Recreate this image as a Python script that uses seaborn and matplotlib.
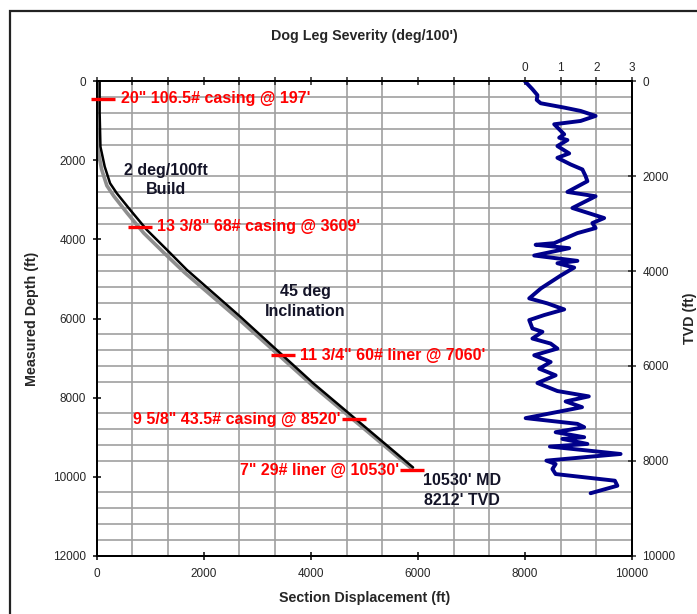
import numpy as np
import pandas as pd
import matplotlib
matplotlib.use("Agg")
import matplotlib.pyplot as plt
from matplotlib.patches import Rectangle
import seaborn as sns

# ---------------- data ----------------
# Dog leg severity (deg/100') vs measured depth (ft)
dls_md = [0, 200, 350, 470, 555, 665, 750, 876, 1003, 1087, 1214, 1341, 1427, 1486,
          1638, 1824, 1935, 2103, 2230, 2400, 2527, 2799, 2908, 3205, 3459, 3586,
          3713, 3840, 4094, 4135, 4221, 4407, 4542, 4602, 4712, 4915, 5237, 5491,
          5618, 5770, 5913, 6040, 6253, 6337, 6507, 6634, 6761, 6930, 7100, 7269,
          7437, 7632, 7835, 7970, 8098, 8243, 8520, 8665, 8749, 8876, 9003, 9046,
          9173, 9240, 9427, 9595, 9681, 9808, 9935, 10103, 10230, 10420]
dls_val = [0.0, 0.21, 0.35, 0.33, 0.44, 1.1, 1.56, 1.98, 1.56, 0.82, 0.96, 1.1, 0.96, 1.19,
           0.91, 1.24, 0.91, 1.28, 1.61, 1.7, 1.75, 1.19, 1.98, 1.33, 2.22, 1.89,
           1.98, 1.47, 0.82, 0.3, 1.24, 0.26, 1.47, 0.91, 1.38, 1.0, 0.45, 0.12,
           0.63, 1.1, 0.54, 0.12, 0.21, 0.49, 0.21, 0.72, 0.91, 0.26, 0.72, 0.40,
           0.86, 0.35, 0.91, 1.79, 1.14, 1.6, 0.02, 1.47, 1.66, 0.86, 1.66, 1.05,
           1.75, 0.7, 2.68, 0.6, 0.86, 0.77, 0.86, 2.52, 2.59, 1.84]

# Well path: section displacement (ft) vs TVD (ft)
actual_disp = [55, 55, 70, 150, 250, 375, 625, 935, 1310, 1680, 2680, 4050, 5910]
actual_tvd = [0, 670, 1380, 1800, 2150, 2360, 2710, 3130, 3550, 3970, 4960, 6370, 8140]
plan_disp = [0, 0, 20, 90, 190, 320, 570, 880, 1260, 1640, 2650, 4030, 5880]
plan_tvd = [0, 800, 1420, 1850, 2200, 2420, 2780, 3200, 3620, 4030, 5010, 6410, 8160]

# Casing points
casing_disp = [123, 809, 3479, 4806, 5899]
casing_tvd = [373, 3071, 5776, 7119, 8194]
casing_labels = ['20" 106.5# casing @ 197\'', '13 3/8" 68# casing @ 3609\'',
                 '11 3/4" 60# liner @ 7060\'', '9 5/8" 43.5# casing @ 8520\'',
                 '7" 29# liner @ 10530\'']
casing_side = ['right', 'right', 'right', 'left', 'left']

md_ticks = [0, 2000, 4000, 6000, 8000, 10000, 12000]
disp_ticks = [0, 2000, 4000, 6000, 8000, 10000]
tvd_ticks = [0, 2000, 4000, 6000, 8000, 10000]
dls_ticks = list(range(-12, 4))

# ---------------- style ----------------
sns.set_style("white")
plt.rcParams['font.family'] = ['Liberation Sans', 'DejaVu Sans']

fig = plt.figure(figsize=(6.97, 6.14), dpi=100)
L, R, B, T = 96.7 / 697, 632 / 697, 1 - 555.7 / 614, 1 - 81.3 / 614
ax = fig.add_axes([L, B, R - L, T - B])

grid_c = '#a0a0a0'
ax.set_xlim(0, 10000)
ax.set_ylim(12000, 0)
ax.set_xticks(disp_ticks)
ax.set_yticks(md_ticks)
ax.set_xticks(np.arange(0, 10001, 2000 / 3), minor=True)
ax.set_yticks(np.arange(0, 12001, 400), minor=True)
ax.grid(which='minor', color=grid_c, lw=1.2)
ax.grid(which='major', visible=False)
ax.set_axisbelow(True)
ax.tick_params(which='major', direction='inout', length=6, width=1.1, color='black',
               labelsize=8.5, pad=4.5)
ax.tick_params(axis='x', which='major', pad=5.5)
ax.tick_params(which='minor', length=0)

# DLS axis on top
ax3 = ax.twiny()
df_dls = pd.DataFrame({'dls': dls_val, 'md': dls_md})
sns.lineplot(data=df_dls, x='dls', y='md', sort=False, estimator=None, ax=ax3,
             color='#00008b', lw=2.8)
ax3.set_xlim(-12, 3)
ax3.set_xticks(dls_ticks)
ax3.set_xticklabels([str(t) if t >= 0 else '' for t in dls_ticks])
ax3.tick_params(axis='x', direction='inout', length=6, width=1.1, labelsize=8.5, pad=2.5)
ax3.set_ylim(12000, 0)

# TVD axis on right
ax2 = ax.twinx()
df_plan = pd.DataFrame({'disp': plan_disp, 'tvd': plan_tvd})
df_act = pd.DataFrame({'disp': actual_disp, 'tvd': actual_tvd})
sns.lineplot(data=df_plan, x='disp', y='tvd', sort=False, estimator=None, ax=ax2,
             color='#8e8e8e', lw=2.6)
sns.lineplot(data=df_act, x='disp', y='tvd', sort=False, estimator=None, ax=ax2,
             color='black', lw=1.8)
ax2.plot(casing_disp, casing_tvd, ls='none', marker='_', ms=17, mew=2.4,
         color='#ff0000', clip_on=False, zorder=5)
for x, y, lab, side in zip(casing_disp, casing_tvd, casing_labels, casing_side):
    if side == 'right':
        ax2.annotate(lab, (x, y), xytext=(12.5, 0), textcoords='offset points',
                     ha='left', va='center', color='#ff0000', fontsize=11.5,
                     fontweight='bold', zorder=6)
    else:
        ax2.annotate(lab, (x, y), xytext=(-9.5, 0), textcoords='offset points',
                     ha='right', va='center', color='#ff0000', fontsize=11.5,
                     fontweight='bold', zorder=6)
ax2.set_ylim(10000, 0)
ax2.set_yticks(tvd_ticks)
ax2.tick_params(axis='y', direction='inout', length=6, width=1.1, labelsize=8.5, pad=4.5)
ax2.set_xlim(0, 10000)

# annotations
txt_c = '#141428'
ax.text(1295, 2497, '2 deg/100ft\nBuild', ha='center', va='center', fontsize=11.5,
        fontweight='bold', color=txt_c, linespacing=1.4)
ax.text(3892, 5571, '45 deg\nInclination', ha='center', va='center', fontsize=11.5,
        fontweight='bold', color=txt_c, linespacing=1.4)
ax.text(6824, 10341, "10530' MD\n8212' TVD", ha='center', va='center', fontsize=11.5,
        fontweight='bold', color=txt_c, linespacing=1.4)

# spines
for a in (ax, ax2, ax3):
    for s in a.spines.values():
        s.set_color('black')
        s.set_linewidth(1.4)

# axis labels
lab_kw = dict(fontsize=10.3, fontweight='bold')
ax.set_xlabel('Section Displacement (ft)', **lab_kw)
ax.xaxis.set_label_coords(0.5, (555.7 - 598) / 474.4)
ax.xaxis.label.set_va('center')
ax.set_ylabel('Measured Depth (ft)', **lab_kw)
ax.yaxis.set_label_coords((32 - 96.7) / 535.3, 0.5)
ax.yaxis.label.set_va('center')
ax3.set_xlabel("Dog Leg Severity (deg/100')", **lab_kw)
ax3.xaxis.set_label_position('top')
ax3.xaxis.set_label_coords(0.5, (555.7 - 35.7) / 474.4)
ax3.xaxis.label.set_va('center')
ax3.set_ylabel('')
ax2.set_xlabel('')
ax2.set_ylabel('TVD (ft)', rotation=90, **lab_kw)
ax2.yaxis.set_label_coords((690 - 96.7) / 535.3, 0.5)
ax2.yaxis.label.set_va('center')
ax2.yaxis.label.set_ha('center')
ax2.yaxis.label.set_rotation_mode('default')

# outer frame
fig.patches.append(Rectangle((9.5 / 697, -0.2), 1.3, 1.2 - 11 / 614,
                             transform=fig.transFigure, fill=False,
                             edgecolor='#222222', lw=1.6))

fig.savefig('out.png', dpi=100)
